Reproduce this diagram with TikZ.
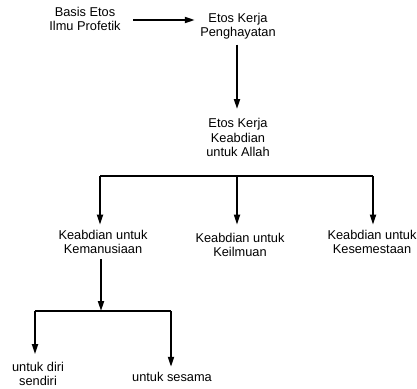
\documentclass[tikz,border=0pt]{standalone}
\usepackage{fontspec}
\setmainfont{Liberation Sans}
\usetikzlibrary{arrows.meta}
\begin{document}
\begin{tikzpicture}[x=1pt,y=-1pt,
  lbl/.style={align=center,inner sep=0pt,outer sep=5.5pt,font=\fontsize{12.8}{14.3}\selectfont},
  conn/.style={line width=1.8pt},
  arr/.style={conn,-{Triangle[length=10pt,width=6pt]}}]
\useasboundingbox (0,0) rectangle (417,388);
\node[lbl] (basis) at (85,19) {Basis Etos\\Ilmu Profetik};
\node[lbl] (peng) at (238,26) {Etos Kerja\\Penghayatan};
\node[lbl] (keab) at (238,137.5) {Etos Kerja\\Keabdian\\untuk Allah};
\node[lbl] (kem) at (103,242) {Keabdian untuk\\Kemanusiaan};
\node[lbl] (ilm) at (240,245) {Keabdian untuk\\Keilmuan};
\node[lbl] (sem) at (372,242) {Keabdian untuk\\Kesemestaan};
\node[lbl] (diri) at (38,374) {untuk diri\\sendiri};
\node[lbl] (ses) at (172,377) {untuk sesama};
% top arrow
\draw[arr,shorten <=7pt] ([yshift=-1pt]basis.east) -- ([yshift=-1pt]basis.east -| peng.west);
\draw[arr,shorten >=4pt] ([xshift=-1pt]peng.south) -- ([xshift=-1pt]peng.south |- keab.north);
% first branching
\coordinate (b1) at (100,176);
\coordinate (b2) at (237,176);
\coordinate (b3) at (373,176);
\draw[conn] (b1) -- (b3);
\draw[arr] (b1) -- (b1 |- kem.north);
\draw[arr] (b2) -- (b2 |- kem.north);
\draw[arr] (b3) -- (b3 |- sem.north);
% second branching
\coordinate (c1) at (35,311);
\coordinate (c2) at (101,311);
\coordinate (c3) at (171,311);
\draw[arr] (kem.south -| c2) -- (c2);
\draw[conn] (c1) -- (c3);
\draw[arr] (c1) -- ([yshift=2.5pt]c1 |- diri.north);
\draw[arr] (c3) -- (c3 |- ses.north);
\end{tikzpicture}
\end{document}
